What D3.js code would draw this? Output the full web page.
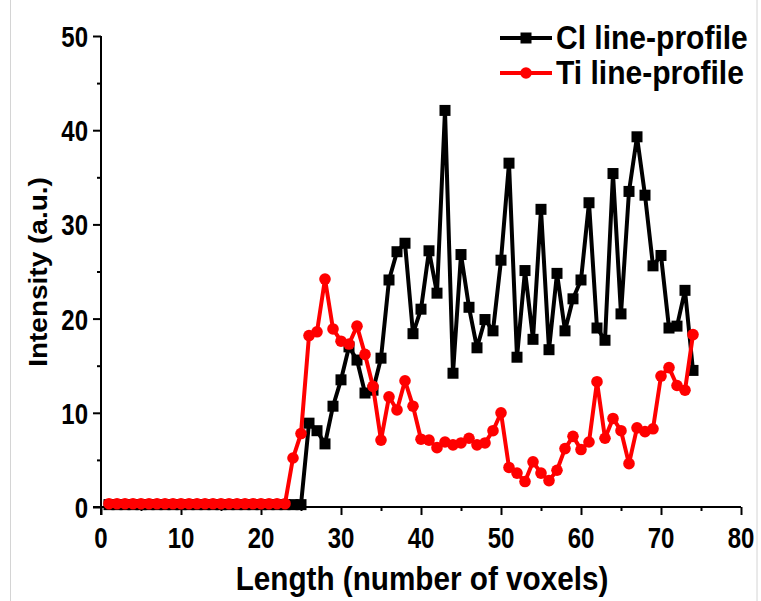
<!DOCTYPE html>
<html>
<head>
<meta charset="utf-8">
<script src="https://cdn.jsdelivr.net/npm/d3@7"></script>
<style>
  html, body { margin: 0; padding: 0; background: #fff; }
  svg { display: block; }
  text { font-family: "Liberation Sans", Arial, sans-serif; font-weight: bold; fill: #000; }
</style>
</head>
<body>
<svg id="chart" width="761" height="601"></svg>
<script>
// Voxel positions along the profile
const voxels = [
  1, 2, 3, 4, 5, 6, 7, 8, 9, 10, 11, 12, 13, 14, 15, 16, 17, 18, 19, 20,
  21, 22, 23, 24, 25, 26, 27, 28, 29, 30, 31, 32, 33, 34, 35, 36, 37, 38, 39, 40,
  41, 42, 43, 44, 45, 46, 47, 48, 49, 50, 51, 52, 53, 54, 55, 56, 57, 58, 59, 60,
  61, 62, 63, 64, 65, 66, 67, 68, 69, 70, 71, 72, 73, 74
];

// Cl intensity per voxel
const clProfile = [
  0.25, 0.25, 0.25, 0.25, 0.25, 0.25, 0.25, 0.25, 0.25, 0.25,
  0.25, 0.25, 0.25, 0.25, 0.25, 0.25, 0.25, 0.25, 0.25, 0.25,
  0.25, 0.25, 0.25, 0.25, 0.25,
  8.9, 8.1, 6.7, 10.7, 13.5, 17.0, 15.6, 12.1, 12.4, 15.8,
  24.1, 27.1, 28.0, 18.4, 21.0, 27.2, 22.7, 42.1, 14.2, 26.8,
  21.2, 16.9, 19.9, 18.7, 26.2, 36.5, 15.9, 25.1, 17.8, 31.6,
  16.7, 24.8, 18.7, 22.1, 24.1, 32.3, 19.0, 17.7, 35.4, 20.5,
  33.5, 39.3, 33.1, 25.6, 26.7, 19.0, 19.2, 23.0, 14.5
];

// Ti intensity per voxel
const tiProfile = [
  0.35, 0.35, 0.35, 0.35, 0.35, 0.35, 0.35, 0.35, 0.35, 0.35,
  0.35, 0.35, 0.35, 0.35, 0.35, 0.35, 0.35, 0.35, 0.35, 0.35,
  0.35, 0.35, 0.35,
  5.2, 7.8, 18.2, 18.6, 24.2, 18.9, 17.6, 17.3, 19.2, 16.2,
  12.8, 7.1, 11.7, 10.3, 13.4, 10.7, 7.2, 7.1, 6.3, 6.9,
  6.6, 6.8, 7.3, 6.6, 6.8, 8.1, 10.0, 4.2, 3.6, 2.7,
  4.8, 3.6, 2.8, 3.9, 6.2, 7.5, 6.1, 6.9, 13.3, 7.3,
  9.4, 8.1, 4.6, 8.4, 8.0, 8.3, 13.9, 14.8, 12.9, 12.4, 18.3
];

const xTicks = [0, 10, 20, 30, 40, 50, 60, 70, 80];
const yTicks = [0, 10, 20, 30, 40, 50];
const seriesNames = ["Cl line-profile", "Ti line-profile"];
const seriesColors = ["#000000", "#ff0000"];

const svg = d3.select("#chart");
const W = 761, H = 601;
const plotLeft = 101, plotRight = 741, plotTop = 36, plotBottom = 507;

// thin frame around the figure
svg.append("rect")
  .attr("x", 10.5).attr("y", -1).attr("width", 746.5).attr("height", H + 2)
  .attr("fill", "none").attr("stroke", "#d4d4d4").attr("stroke-width", 1);

const x = d3.scaleLinear().domain([0, 80]).range([plotLeft, plotRight]);
const y = d3.scaleLinear().domain([0, 50]).range([plotBottom, plotTop]);

// bold text, narrowed horizontally by `squeeze`
function label(g, px, py, str, size, anchor, squeeze, rotate) {
  return g.append("text")
    .attr("transform", `translate(${px},${py}) scale(${squeeze},1)` + (rotate ? ` rotate(${rotate})` : ""))
    .attr("text-anchor", anchor)
    .attr("font-size", size)
    .text(str);
}

// axes
const axisG = svg.append("g");
const xAxis = d3.axisBottom(x).tickValues(xTicks).tickSize(8).tickFormat("");
const yAxis = d3.axisLeft(y).tickValues(yTicks).tickSize(8).tickFormat("");
const xMinor = d3.axisBottom(x).tickValues(d3.range(5, 80, 10)).tickSize(4).tickFormat("");
const yMinor = d3.axisLeft(y).tickValues(d3.range(5, 50, 10)).tickSize(4).tickFormat("");

function styleAxis(g) {
  g.selectAll("path").attr("stroke", "#000").attr("stroke-width", 2);
  g.selectAll("line").attr("stroke", "#000").attr("stroke-width", 2);
}
axisG.append("g").attr("transform", `translate(0,${plotBottom})`).call(xAxis).call(styleAxis)
  .select(".domain").attr("d", `M${plotLeft - 8},0H${plotRight}`);
axisG.append("g").attr("transform", `translate(0,${plotBottom})`).call(xMinor).call(styleAxis)
  .select(".domain").remove();
axisG.append("g").attr("transform", `translate(${plotLeft},0)`).call(yAxis).call(styleAxis)
  .select(".domain").attr("d", `M0,${plotTop}V${plotBottom + 8}`);
axisG.append("g").attr("transform", `translate(${plotLeft},0)`).call(yMinor).call(styleAxis)
  .select(".domain").remove();

// tick labels
xTicks.forEach(t => label(svg, x(t), 548, String(t), 30, "middle", 0.8));
yTicks.forEach(t => label(svg, plotLeft - 13, y(t) + 11, String(t), 30, "end", 0.8));

// axis titles
label(svg, (plotLeft + plotRight) / 2 + 1, 590, "Length (number of voxels)", 33, "middle", 0.9);
label(svg, 47, 272, "Intensity (a.u.)", 28, "middle", 0.92, -90);

// series
const line = d3.line().x(d => x(d[0])).y(d => y(d[1]));
const clData = voxels.map((v, i) => [v, clProfile[i]]);
const tiData = voxels.map((v, i) => [v, tiProfile[i]]);

function drawSeries(data, color, marker) {
  const g = svg.append("g");
  g.append("path").datum(data).attr("d", line)
    .attr("fill", "none").attr("stroke", color).attr("stroke-width", 4)
    .attr("stroke-linejoin", "round");
  if (marker === "square") {
    g.selectAll("rect").data(data).join("rect")
      .attr("x", d => x(d[0]) - 5.5).attr("y", d => y(d[1]) - 5.5)
      .attr("width", 11).attr("height", 11).attr("fill", color);
  } else {
    g.selectAll("circle").data(data).join("circle")
      .attr("cx", d => x(d[0])).attr("cy", d => y(d[1]))
      .attr("r", 5.8).attr("fill", color);
  }
}
drawSeries(clData, seriesColors[0], "square");
drawSeries(tiData, seriesColors[1], "circle");

// legend
const legend = svg.append("g");
[0, 1].forEach(i => {
  const ly = 38 + i * 35;
  legend.append("line").attr("x1", 500).attr("x2", 552).attr("y1", ly).attr("y2", ly)
    .attr("stroke", seriesColors[i]).attr("stroke-width", 4);
  if (i === 0) {
    legend.append("rect").attr("x", 520.5).attr("y", ly - 5.5).attr("width", 11).attr("height", 11)
      .attr("fill", seriesColors[i]);
  } else {
    legend.append("circle").attr("cx", 526).attr("cy", ly).attr("r", 5.8).attr("fill", seriesColors[i]);
  }
  label(legend, 556, ly + 11, seriesNames[i], 33, "start", 0.91);
});
</script>
</body>
</html>
